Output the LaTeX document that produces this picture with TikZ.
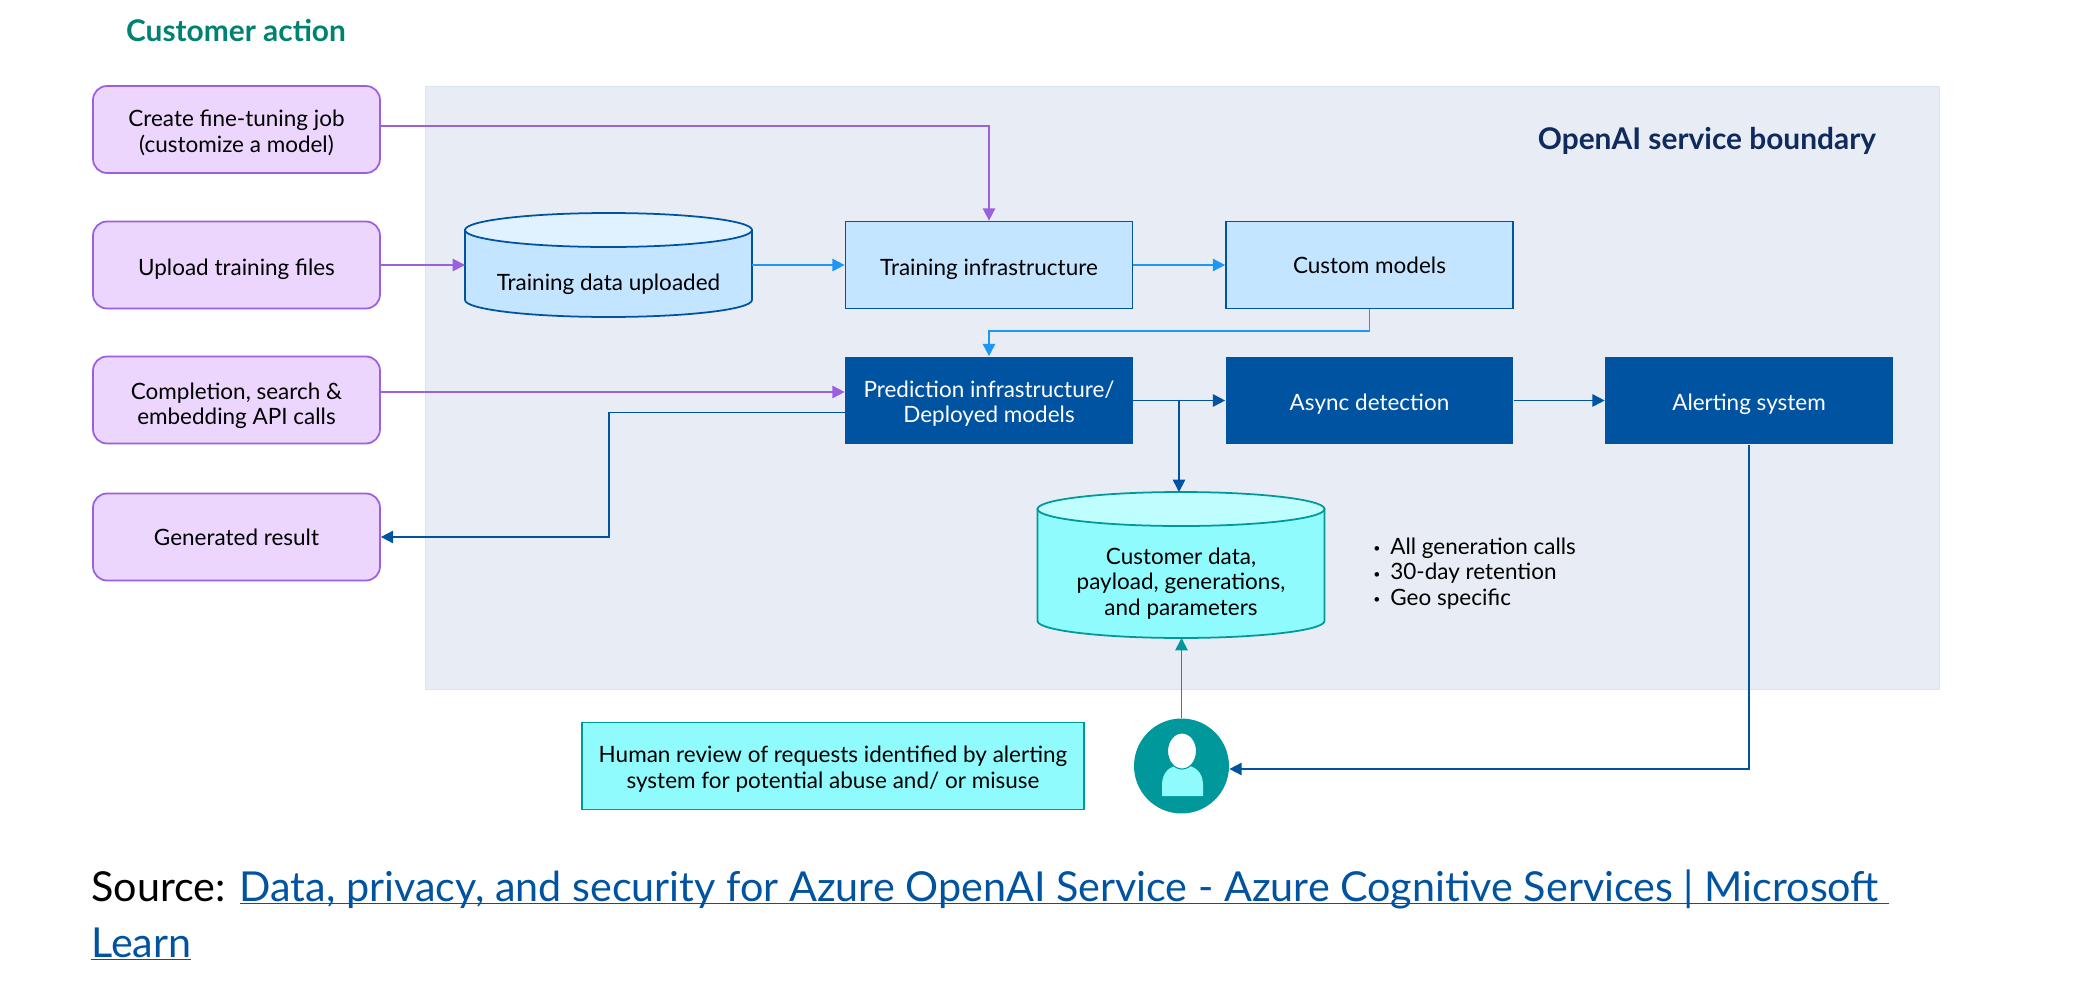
\documentclass[tikz,border=0pt]{standalone}
\usepackage{fontspec}
\setmainfont{Lato}
\usetikzlibrary{arrows.meta,shapes.geometric}
\newcommand{\genitem}[1]{\makebox[0.34cm][l]{\raisebox{1pt}{\scriptsize\textbullet}}#1}
% body and lid of a storage drum, drawn around a named node
\newcommand{\drum}[3]{%
  \filldraw[draw=#2, fill=#3, line width=1pt] ([yshift=-0.34cm]#1.north west) -- ([yshift=0.34cm]#1.south west) arc[start angle=180, end angle=360, x radius=2.87cm, y radius=0.34cm] -- ([yshift=-0.34cm]#1.north east) -- cycle;
}
\newcommand{\drumlid}[3]{%
  \filldraw[draw=#2, fill=#3, line width=1pt] ([yshift=-0.34cm]#1.north) ellipse [x radius=2.87cm, y radius=0.34cm];
}
\tikzset{
  every node/.style={font=\fontsize{12.8}{14.4}\selectfont, align=center, execute at begin node={\rule{0pt}{14pt}}},
  dropped/.style={execute at begin node={\rule{0pt}{#1}}},
  action/.style={rectangle, rounded corners=0.28cm, draw=actline, fill=actfill, line width=1pt, minimum width=5.74cm, minimum height=1.74cm, inner sep=0pt},
  lightbox/.style={rectangle, draw=navy, fill=lightfill, line width=1pt, minimum width=5.74cm, minimum height=1.74cm, inner sep=0pt},
  darkbox/.style={rectangle, fill=navy, text=white, minimum width=5.76cm, minimum height=1.76cm, inner sep=0pt},
  store/.style={rectangle, outer sep=0pt, inner sep=0pt, minimum width=5.74cm},
  conn/.style={line width=1pt, -{Triangle[length=7pt,width=7pt]}},
}
\begin{document}
\begin{tikzpicture}[x=0.02cm, y=-0.02cm]
    \definecolor{navy}{HTML}{0053A0}
    \definecolor{actline}{HTML}{9A60E0}
    \definecolor{actfill}{HTML}{ECD6FD}
    \definecolor{lightfill}{HTML}{C4E5FF}
    \definecolor{lighttop}{HTML}{E0F2FF}
    \definecolor{skyline}{HTML}{1E96F5}
    \definecolor{tealdark}{HTML}{00989A}
    \definecolor{cyanfill}{HTML}{8FFBFC}
    \definecolor{cyantop}{HTML}{BEFEFF}
    \definecolor{zonefill}{HTML}{E8ECF4}
    \definecolor{zoneline}{HTML}{DAE3EE}
    \definecolor{zonetitle}{HTML}{0F2A5C}
    \definecolor{headteal}{HTML}{008272}
    \useasboundingbox (0,0) rectangle (2085,1000);

    % service boundary
    \node[rectangle, draw=zoneline, fill=zonefill, minimum width=30.28cm, minimum height=12.06cm, inner sep=0pt] (zone) at (1182,387.5) {};
    \node[font=\fontsize{17}{20}\selectfont\bfseries, text=zonetitle] (zonelabel) at (1707,140) {OpenAI service boundary};
    \node[font=\fontsize{17}{20}\selectfont\bfseries, text=headteal] (heading) at (236,29) {Customer action};

    % customer actions
    \node[action, dropped=27.5pt] (create) at (236.5,129.5) {Create fine-tuning job\\(customize a model)};
    \node[action] (upload) at (236.5,265) {Upload training files};
    \node[action, dropped=30.5pt] (calls)  at (236.5,400) {Completion, search \&\\embedding API calls};
    \node[action, text depth=4.5pt] (result) at (236.5,537) {Generated result};

    % training side
    \node[store, minimum height=2.08cm] (traindata) at (608.5,265) {};
    \drum{traindata}{navy}{lightfill}
    \drumlid{traindata}{navy}{lighttop}
    \node (traintext) at (608.5,280) {Training data uploaded};
    \node[lightbox] (trainsys) at (989,265) {Training infrastructure};
    \node[lightbox, text depth=4.5pt] (custom)   at (1369.5,265) {Custom models};

    % prediction side
    \node[darkbox, dropped=27.5pt] (predict) at (989,400.5) {Prediction infrastructure/\\Deployed models};
    \node[darkbox] (async)   at (1369.5,400.5) {Async detection};
    \node[darkbox] (alert)   at (1749,400.5) {Alerting system};
    \node[store, minimum height=2.92cm] (custdata) at (1181,565) {};
    \drum{custdata}{tealdark}{cyanfill}
    \drumlid{custdata}{tealdark}{cyantop}
    \node (custtext) at (1181,583.5) {Customer data,\\payload, generations,\\and parameters};
    \node[align=left, anchor=west, inner sep=0pt] (notes) at (1373,573.5) {\genitem{All generation calls}\\\genitem{30-day retention}\\\genitem{Geo specific}};

    % human review
    \node[rectangle, draw=tealdark, fill=cyanfill, line width=1pt, minimum width=10.04cm, minimum height=1.74cm, inner sep=0pt, dropped=27.5pt] (review) at (833,766) {Human review of requests identified by alerting\\system for potential abuse and/ or misuse};
    \node[circle, fill=tealdark, minimum size=1.9cm, inner sep=0pt] (person) at (1181.5,766) {};
    \fill[cyanfill] (1162,796) -- (1162,785) .. controls (1162,772) and (1170,765) .. (1182,765) .. controls (1195,765) and (1203,772) .. (1203,785) -- (1203,796) -- cycle;
    \node[ellipse, draw=tealdark, fill=white, line width=0.6pt, minimum width=0.58cm, minimum height=0.72cm, inner sep=0pt] (head) at (1182,751) {};

    % bends and branch points
    \coordinate (jog)  at (989,331);
    \coordinate (bend) at (609,537);
    \coordinate (tap)  at (1179,400.5);

    % connectors
    \draw[conn, actline] ([yshift=0.07cm]create.east) -| (trainsys.north);
    \draw[conn, actline] (upload.east) -- (traindata.west |- upload.east);
    \draw[conn, skyline] (traindata.east |- trainsys.west) -- (trainsys.west);
    \draw[conn, skyline] (trainsys.east) -- (custom.west);
    \draw[conn, skyline] (custom.south) |- (jog) -- (predict.north);
    \draw[conn, actline] ([yshift=0.16cm]calls.east) -- ([yshift=0.16cm]calls.east -| predict.west);
    \draw[conn, navy] ([yshift=-0.24cm]predict.west) -| (bend) -- (result.east);
    \draw[conn, navy] (predict.east) -- (async.west);
    \draw[conn, navy] (tap) -- (tap |- custdata.north);
    \draw[conn, navy] (async.east) -- (alert.west);
    \draw[conn, navy] (alert.south) |- ([yshift=-0.06cm]person.east);
    \draw[conn, tealdark] (person.north) -- (person.north |- custdata.south);

    % source line
    \node[anchor=base west, align=left, inner sep=0pt, font=\fontsize{23.5}{30}\selectfont] (source) at (91,901) {Source: \textcolor{navy}{\underline{\smash{Data, privacy, and security for Azure OpenAI Service - Azure Cognitive Services | Microsoft\ }}}};
    \node[anchor=base west, align=left, inner sep=0pt, font=\fontsize{23.5}{30}\selectfont, text=navy] (sourcetwo) at (91,957) {\underline{\smash{Learn}}};
\end{tikzpicture}
\end{document}
